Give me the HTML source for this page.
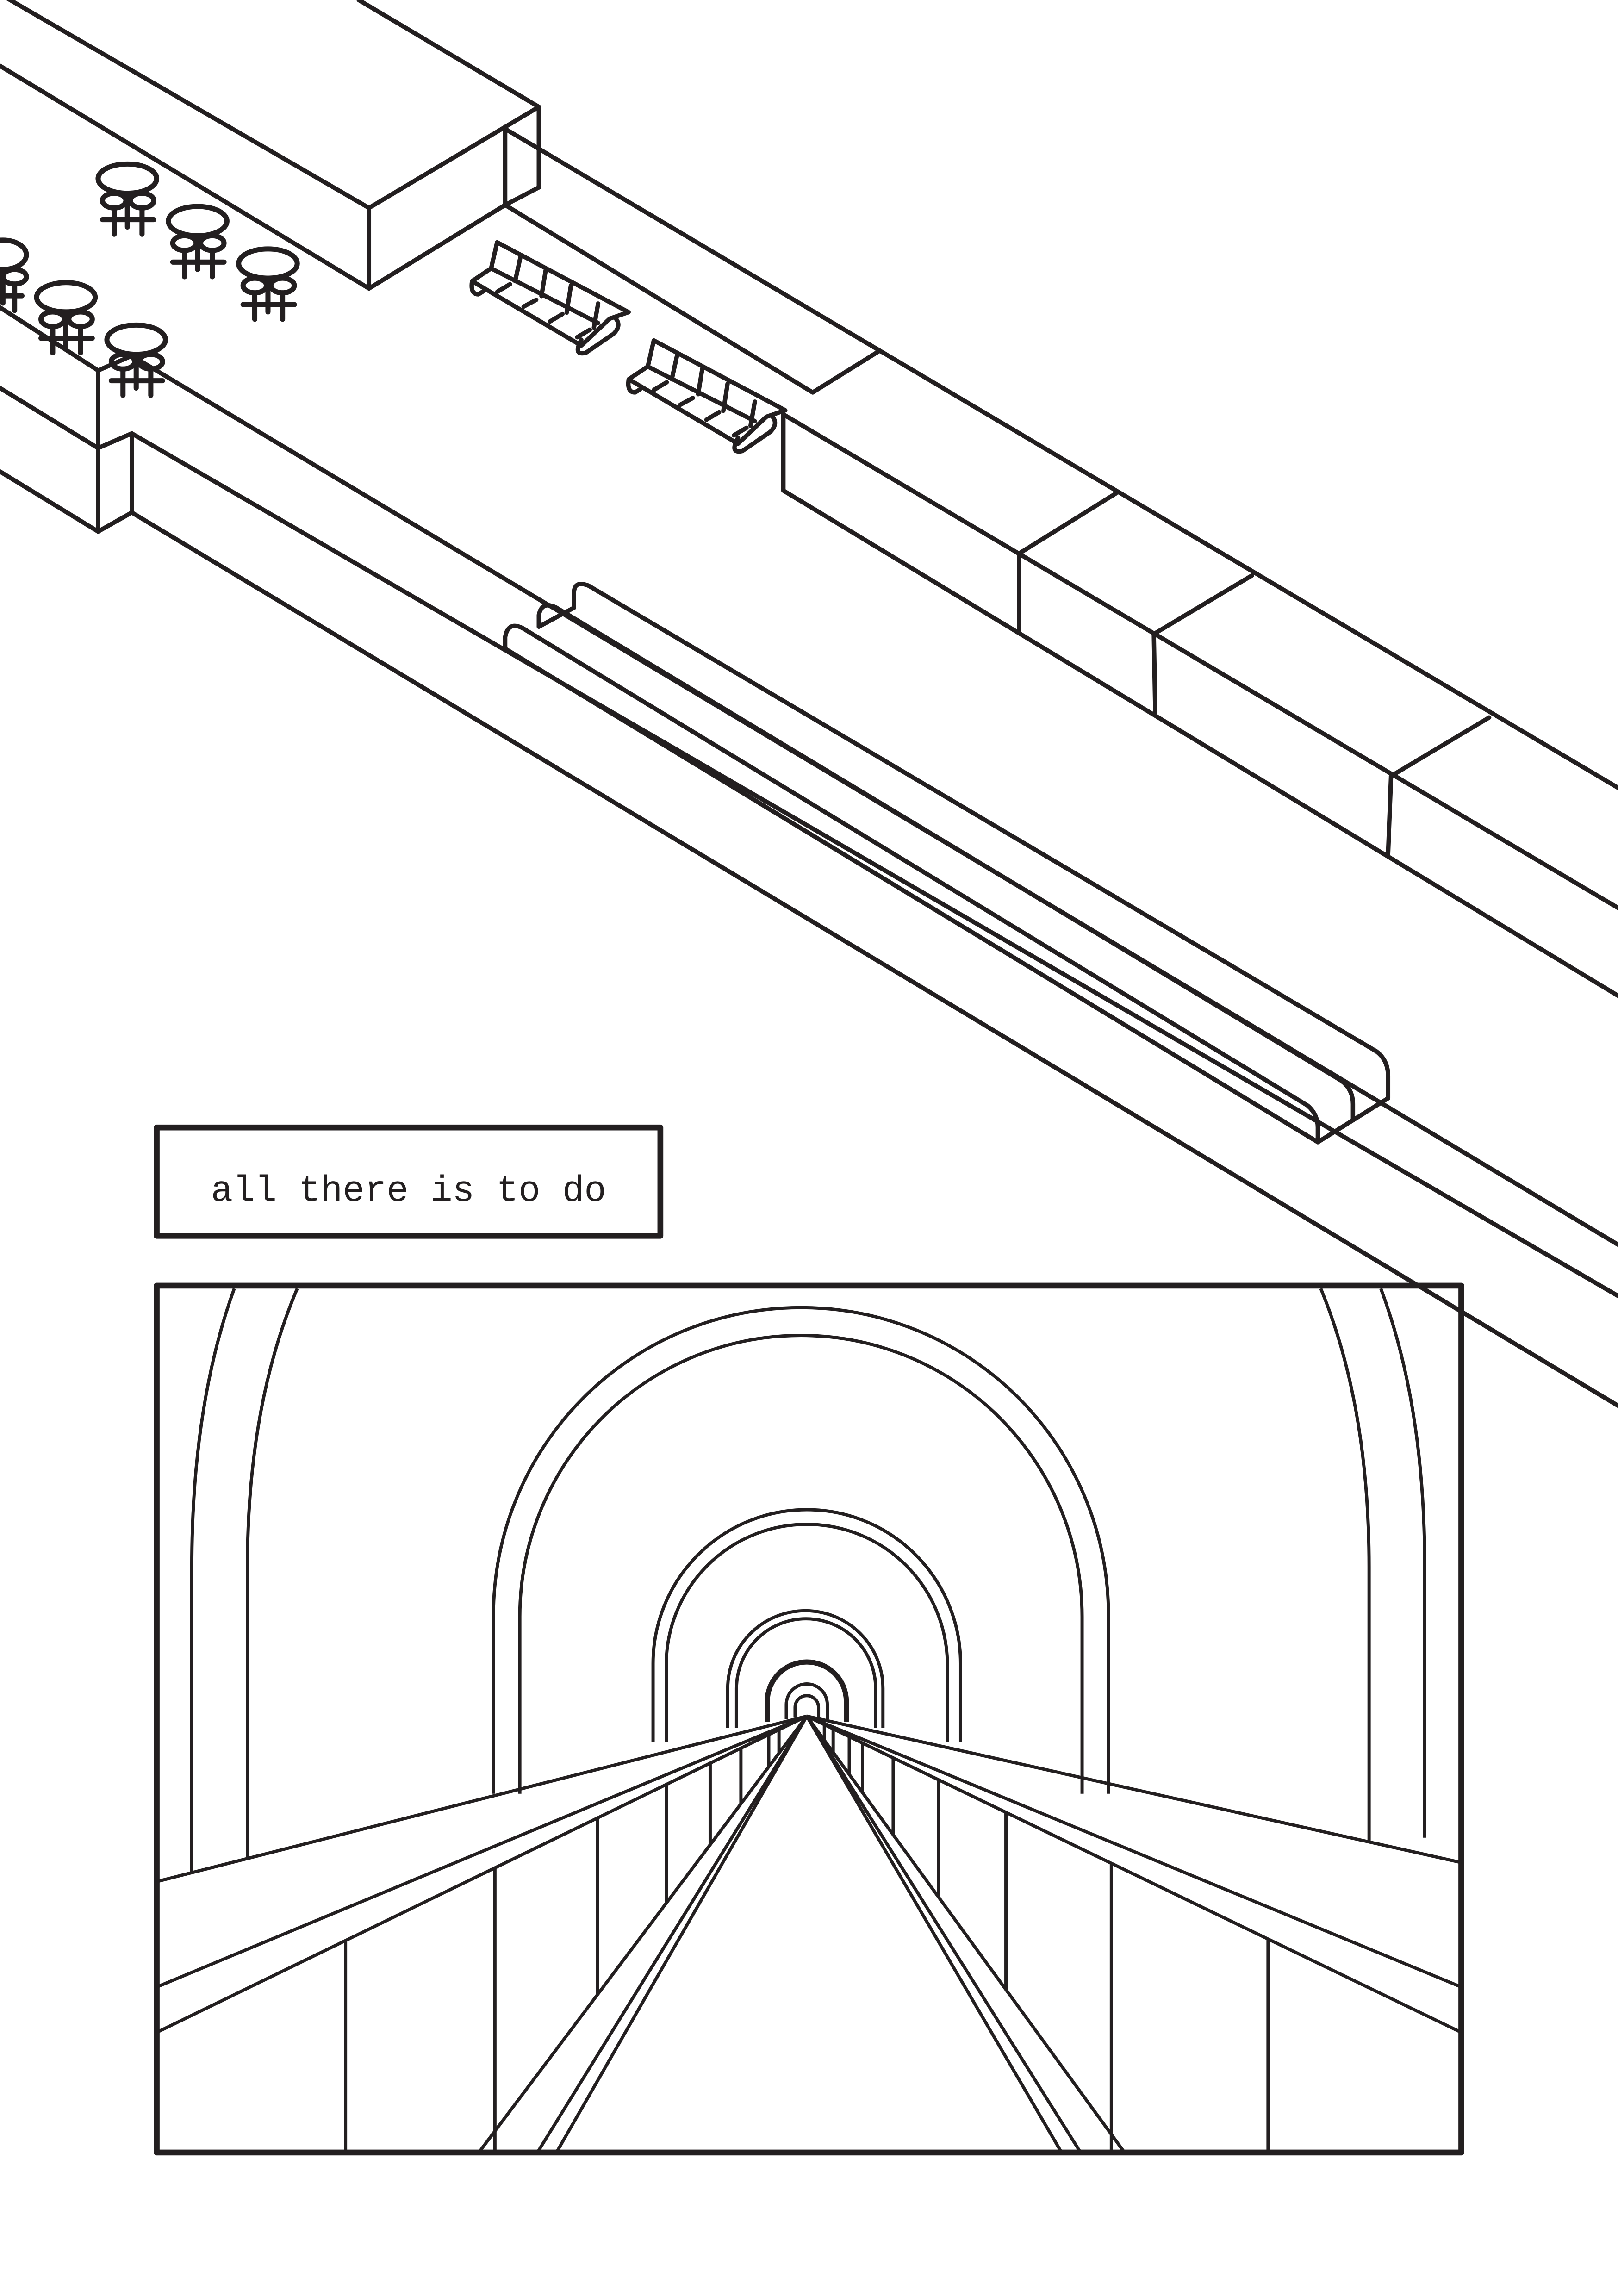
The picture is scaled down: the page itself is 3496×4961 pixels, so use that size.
<!DOCTYPE html>
<html><head><meta charset="utf-8"><style>
html,body{margin:0;padding:0;background:#fff;}
svg{display:block;}
</style></head><body>
<svg width="3496" height="4961" viewBox="0 0 1105 1568" preserveAspectRatio="none" xmlns="http://www.w3.org/2000/svg">
<rect width="1105" height="1568" fill="#fff"/>
<defs>
<g id="bench" fill="none" stroke="#231f20" stroke-width="3" stroke-linejoin="round" stroke-linecap="round">
<path d="M339.5,165.5 L429.3,213.2 L416.4,217.6 L397,236 L322.4,192 L335.4,183.3 Z"/>
<path d="M335.4,183.3 L408.5,220.6"/>
<path d="M355.4,175.7 L351.8,192 M372.6,184.9 L369.8,202.2 M389.9,195 L387,213.5 M408.5,207.3 L405.6,223.7"/>
<path d="M348.3,194.1 L339.7,199.2 M366.2,204.8 L357.6,209.4 M384.1,214.5 L375.5,219.6 M402.8,225.2 L394.2,230.3"/>
<path d="M397,232 Q391,243 400,241 L419,228 Q425,222 420,217"/>
<path d="M322.4,192 Q321,201 326.7,201 L330,199"/>
</g>
</defs>
<g fill="none" stroke="#231f20" stroke-width="3" stroke-linejoin="round" stroke-linecap="round">
<!-- top block -->
<line x1="245" y1="0" x2="368" y2="73"/>
<line x1="0" y1="-4" x2="252" y2="142"/>
<line x1="0" y1="45" x2="252" y2="197"/>
<line x1="368" y1="73" x2="252" y2="142"/>
<line x1="252" y1="142" x2="252" y2="197"/>
<line x1="368" y1="73" x2="368" y2="128"/>
<line x1="345" y1="88" x2="345" y2="140"/>
<line x1="368" y1="128" x2="345" y2="140"/>
<line x1="345" y1="140" x2="252" y2="197"/>
<!-- platform edge -->
<line x1="345" y1="88" x2="1105" y2="538"/>
<line x1="345" y1="140" x2="555" y2="268"/>
<line x1="555" y1="268" x2="600" y2="240"/>
<line x1="535" y1="283" x2="1105" y2="620"/>
<line x1="535" y1="283" x2="535" y2="335"/>
<line x1="535" y1="335" x2="1105" y2="680"/>
<line x1="696" y1="378" x2="762" y2="337"/>
<line x1="788" y1="433" x2="855" y2="393"/>
<line x1="950" y1="530" x2="1017" y2="490"/>
<line x1="696" y1="378" x2="696" y2="432"/>
<line x1="788" y1="433" x2="789" y2="488"/>
<line x1="950" y1="530" x2="948" y2="583"/>
<!-- left block -->
<line x1="0" y1="210" x2="67" y2="253"/>
<line x1="0" y1="265" x2="67" y2="306"/>
<line x1="0" y1="322" x2="67" y2="363"/>
<line x1="67" y1="253" x2="67" y2="363"/>
<line x1="67" y1="306" x2="90" y2="296"/>
<line x1="90" y1="296" x2="90" y2="350"/>
<line x1="67" y1="363" x2="90" y2="350"/>
<line x1="67" y1="253" x2="90" y2="243"/>
<line x1="90" y1="243" x2="1105" y2="850"/>
<line x1="90" y1="296" x2="1105" y2="885"/>
<line x1="90" y1="350" x2="1105" y2="960"/>
<!-- escalator -->
<path d="M392,415 L392,405 Q392,396 402,400 L940,718 Q948,724 948,735 L948,750"/>
<path d="M368,428 L368,420 Q370,410 380,415 L916,738 Q924,744 924,754 L924,765"/>
<path d="M345,443 L345,435 Q347,424 357,429 L893,755 Q900,761 900,770 L900,780"/>
<line x1="345" y1="443" x2="900" y2="780"/>
<line x1="368" y1="428" x2="392" y2="415"/>
<line x1="900" y1="780" x2="948" y2="750"/>
<!-- cafe tables -->
<g stroke-width="3.5">
<ellipse cx="87" cy="122" rx="20" ry="10"/><ellipse cx="78" cy="137" rx="8" ry="5"/><ellipse cx="97" cy="137" rx="8" ry="5"/><path d="M78,142 V160 M97,142 V160 M70,150 H105 M87,132 V155"/>
<ellipse cx="135" cy="151" rx="20" ry="10"/><ellipse cx="126" cy="166" rx="8" ry="5"/><ellipse cx="145" cy="166" rx="8" ry="5"/><path d="M126,171 V189 M145,171 V189 M118,179 H153 M135,161 V184"/>
<ellipse cx="183" cy="180" rx="20" ry="10"/><ellipse cx="174" cy="195" rx="8" ry="5"/><ellipse cx="193" cy="195" rx="8" ry="5"/><path d="M174,200 V218 M193,200 V218 M166,208 H201 M183,190 V213"/>
<ellipse cx="45" cy="203" rx="20" ry="10"/><ellipse cx="36" cy="218" rx="8" ry="5"/><ellipse cx="55" cy="218" rx="8" ry="5"/><path d="M36,223 V241 M55,223 V241 M28,231 H63 M45,213 V236"/>
<ellipse cx="93" cy="232" rx="20" ry="10"/><ellipse cx="84" cy="247" rx="8" ry="5"/><ellipse cx="103" cy="247" rx="8" ry="5"/><path d="M84,252 V270 M103,252 V270 M76,260 H111 M93,242 V265"/>
<ellipse cx="2" cy="174" rx="16" ry="10"/><ellipse cx="10" cy="189" rx="8" ry="5"/><path d="M10,194 V212 M2,184 V207 M0,202 H15"/>
</g>
<!-- text box -->
<rect x="107" y="770" width="344" height="74" stroke-width="4"/>
<!-- bottom panel -->
<rect x="107" y="878" width="891" height="592" stroke-width="4"/>
</g>
<use href="#bench"/>
<use href="#bench" transform="translate(107,67)"/>
<text x="279" y="820" font-family="Liberation Mono, monospace" font-size="25" text-anchor="middle" fill="#231f20">all there is to do</text>
<g fill="none" stroke="#231f20" stroke-width="2.2">
<!-- side arches -->
<path d="M160,880 Q131,960 131,1070 L131,1280"/>
<path d="M203,880 Q169,960 169,1070 L169,1270"/>
<path d="M902,880 Q935,960 935,1070 L935,1257"/>
<path d="M943,880 Q973,960 973,1070 L973,1255"/>
<!-- central arches -->
<path d="M337,1225 L337,1103 A210,210 0 0 1 757,1103 L757,1225"/>
<path d="M355,1225 L355,1104 A192,192 0 0 1 739,1104 L739,1225"/>
<path d="M446,1190 L446,1136 A105,105 0 0 1 656,1136 L656,1190"/>
<path d="M455,1190 L455,1137 A96,96 0 0 1 647,1137 L647,1190"/>
<path d="M497,1180 L497,1153 A53,53 0 0 1 603,1153 L603,1180"/>
<path d="M503,1180 L503,1153 A47.5,47.5 0 0 1 598,1153 L598,1180"/>
<path d="M524,1176 L524,1162 A27,27 0 0 1 578,1162 L578,1176" stroke-width="3.5"/>
<path d="M537,1174 L537,1164 A14,14 0 0 1 565,1164 L565,1174"/>
<path d="M543,1173 L543,1166 A8,8 0 0 1 559,1166 L559,1173"/>
<!-- perspective lines -->
<line x1="551" y1="1172" x2="107" y2="1285"/>
<line x1="551" y1="1172" x2="107" y2="1357"/>
<line x1="551" y1="1172" x2="107" y2="1388"/>
<line x1="551" y1="1172" x2="998" y2="1272"/>
<line x1="551" y1="1172" x2="998" y2="1357"/>
<line x1="551" y1="1172" x2="998" y2="1388"/>
<line x1="551" y1="1172" x2="327" y2="1470"/>
<line x1="551" y1="1172" x2="367" y2="1470"/>
<line x1="551" y1="1172" x2="380" y2="1470"/>
<line x1="551" y1="1172" x2="725" y2="1470"/>
<line x1="551" y1="1172" x2="738" y2="1470"/>
<line x1="551" y1="1172" x2="768" y2="1470"/>
<!-- verticals -->
<line x1="236" y1="1325" x2="236" y2="1470"/>
<line x1="338" y1="1276" x2="338" y2="1470"/>
<line x1="408" y1="1241" x2="408" y2="1362"/>
<line x1="455" y1="1219" x2="455" y2="1300"/>
<line x1="485" y1="1204" x2="485" y2="1260"/>
<line x1="506" y1="1194" x2="506" y2="1232"/>
<line x1="525" y1="1185" x2="525" y2="1207"/>
<line x1="532" y1="1181" x2="532" y2="1197"/>
<line x1="563" y1="1178" x2="563" y2="1189"/>
<line x1="569" y1="1181" x2="569" y2="1197"/>
<line x1="580" y1="1186" x2="580" y2="1212"/>
<line x1="589" y1="1190" x2="589" y2="1224"/>
<line x1="610" y1="1200" x2="610" y2="1253"/>
<line x1="641" y1="1215" x2="641" y2="1296"/>
<line x1="687" y1="1238" x2="687" y2="1359"/>
<line x1="759" y1="1272" x2="759" y2="1470"/>
<line x1="866" y1="1324" x2="866" y2="1470"/>
</g>
</svg>
</body></html>
